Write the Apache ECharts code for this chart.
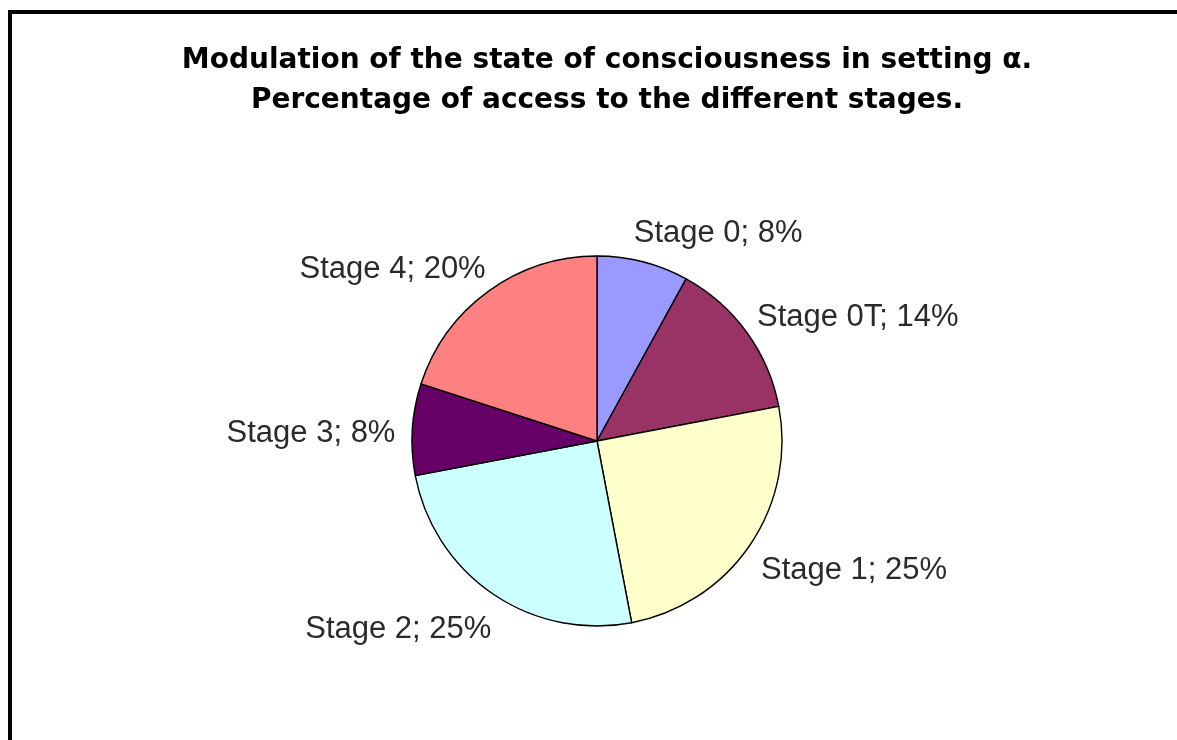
<!DOCTYPE html>
<html>
<head>
<meta charset="utf-8">
<title>Modulation of the state of consciousness</title>
<script src="https://cdn.jsdelivr.net/npm/echarts@6/dist/echarts.min.js"></script>
<style>
  html, body { margin: 0; padding: 0; background: #ffffff; }
  #chart { width: 1177px; height: 740px; }
</style>
</head>
<body>
<div id="chart"></div>
<script>
// Stages and their share of access, in percent
const stages = ['Stage 0', 'Stage 0T', 'Stage 1', 'Stage 2', 'Stage 3', 'Stage 4'];
const shares = [8, 14, 25, 25, 8, 20];
const sliceColors = ['#9999FF', '#993366', '#FFFFCC', '#CCFFFF', '#660066', '#FF8080'];

const titleLines = [
  'Modulation of the state of consciousness in setting \u03B1.',
  'Percentage of access to the different stages.'
];

const chart = echarts.init(document.getElementById('chart'), null, { renderer: 'canvas' });

chart.setOption({
  backgroundColor: '#ffffff',
  animation: false,
  title: {
    text: titleLines.join('\n'),
    left: 602,
    top: 36,
    textAlign: 'center',
    textStyle: {
      fontFamily: 'DejaVu Sans, sans-serif',
      fontWeight: 'bold',
      fontSize: 28,
      lineHeight: 40,
      color: '#000000'
    }
  },
  graphic: [{
    // chart frame, open towards the right and bottom edges
    type: 'rect',
    shape: { x: 10, y: 12, width: 1400, height: 1000 },
    style: { fill: 'none', stroke: '#000000', lineWidth: 4 },
    silent: true
  }],
  series: [{
    type: 'pie',
    center: [597, 441],
    radius: 185,
    startAngle: 90,
    clockwise: true,
    avoidLabelOverlap: false,
    data: stages.map((name, i) => ({
      name: name,
      value: shares[i],
      itemStyle: { color: sliceColors[i] }
    })),
    itemStyle: { borderColor: '#000000', borderWidth: 1.4 },
    label: {
      show: true,
      position: 'outside',
      formatter: p => p.name + '; ' + p.value + '%',
      fontFamily: 'Liberation Sans, Arial, sans-serif',
      fontSize: 31,
      color: '#2a2a2a',
      distanceToLabelLine: -18
    },
    labelLine: { show: false, length: 35, length2: 0 },
    labelLayout: () => ({ dy: 6 }),
    emphasis: { disabled: true }
  }]
});
</script>
</body>
</html>
